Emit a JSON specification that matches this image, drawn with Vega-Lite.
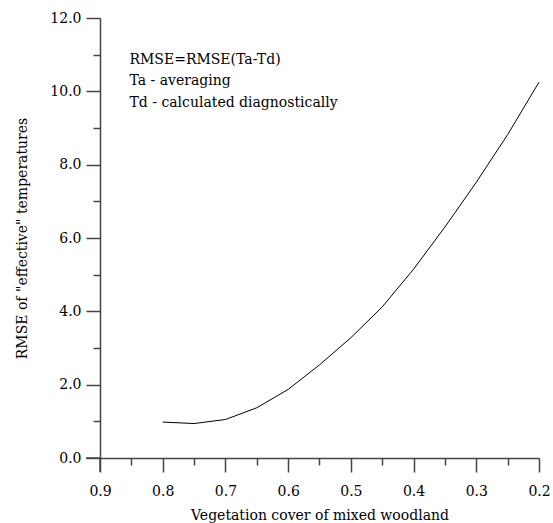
{
  "$schema": "https://vega.github.io/schema/vega-lite/v6.json",
  "autosize": "none",
  "width": 439,
  "height": 440,
  "padding": {"left": 100, "top": 18, "right": 14, "bottom": 65},
  "background": "white",
  "config": {
    "view": {"stroke": null},
    "font": "DejaVu Serif",
    "style": {"guide-title": {"fontWeight": "normal"}},
    "axis": {
      "grid": false,
      "domainColor": "#444444",
      "domainWidth": 1.5,
      "tickColor": "#444444",
      "tickWidth": 1.5,
      "labelColor": "black",
      "titleColor": "black",
      "labelFont": "DejaVu Serif",
      "titleFont": "DejaVu Serif",
      "labelFontSize": 14,
      "titleFontSize": 14,
      "titleFontWeight": "normal"
    }
  },
  "data": {
    "values": [
      {"cover": 0.8, "rmse": 0.98},
      {"cover": 0.75, "rmse": 0.94},
      {"cover": 0.7, "rmse": 1.05},
      {"cover": 0.65, "rmse": 1.37},
      {"cover": 0.6, "rmse": 1.87},
      {"cover": 0.55, "rmse": 2.54},
      {"cover": 0.5, "rmse": 3.28},
      {"cover": 0.45, "rmse": 4.12},
      {"cover": 0.4, "rmse": 5.15},
      {"cover": 0.35, "rmse": 6.3},
      {"cover": 0.3, "rmse": 7.52},
      {"cover": 0.25, "rmse": 8.82},
      {"cover": 0.2, "rmse": 10.25}
    ]
  },
  "resolve": {"axis": {"x": "independent", "y": "independent"}},
  "layer": [
    {
      "mark": {"type": "line", "color": "black", "strokeWidth": 1},
      "encoding": {
        "x": {
          "field": "cover",
          "type": "quantitative",
          "scale": {"domain": [0.9, 0.2], "nice": false, "zero": false},
          "axis": {
            "orient": "bottom",
            "title": "Vegetation cover of mixed woodland",
            "titleFontWeight": "normal",
            "values": [0.9, 0.8, 0.7, 0.6, 0.5, 0.4, 0.3, 0.2],
            "format": ".1f",
            "tickSize": 14,
            "labelPadding": 12,
            "titlePadding": 10,
            "labelFlush": false,
            "labelOverlap": false
          }
        },
        "y": {
          "field": "rmse",
          "type": "quantitative",
          "scale": {"domain": [0, 12], "nice": false},
          "axis": {
            "orient": "left",
            "title": "RMSE of \"effective\" temperatures",
            "titleFontWeight": "normal",
            "values": [0, 2, 4, 6, 8, 10, 12],
            "format": ".1f",
            "tickSize": 14,
            "labelPadding": 5,
            "titlePadding": 20,
            "labelFlush": false,
            "labelOverlap": false
          }
        }
      }
    },
    {
      "mark": {"type": "line", "opacity": 0},
      "encoding": {
        "x": {
          "field": "cover",
          "type": "quantitative",
          "axis": {
            "orient": "bottom",
            "title": "",
            "domain": false,
            "labels": false,
            "values": [0.85, 0.75, 0.65, 0.55, 0.45, 0.35, 0.25],
            "tickSize": 7
          }
        },
        "y": {
          "field": "rmse",
          "type": "quantitative",
          "axis": {
            "orient": "left",
            "title": "",
            "domain": false,
            "labels": false,
            "values": [1, 3, 5, 7, 9, 11],
            "tickSize": 7
          }
        }
      }
    },
    {
      "data": {"values": [{"x0": 0.9, "x1": 0.9223, "y0": 0}]},
      "mark": {"type": "rule", "color": "#444444", "strokeWidth": 1.5},
      "encoding": {
        "x": {"field": "x0", "type": "quantitative", "axis": null},
        "x2": {"field": "x1"},
        "y": {"field": "y0", "type": "quantitative", "axis": null}
      }
    },
    {
      "data": {"values": [{"x0": 0.9, "y0": 0, "y1": -0.38}]},
      "mark": {"type": "rule", "color": "#444444", "strokeWidth": 1.5},
      "encoding": {
        "x": {"field": "x0", "type": "quantitative", "axis": null},
        "y": {"field": "y0", "type": "quantitative", "axis": null},
        "y2": {"field": "y1"}
      }
    },
    {
      "data": {"values": [{"note": ["RMSE=RMSE(Ta-Td)", "Ta - averaging", "Td - calculated diagnostically"], "nx": 0.853, "ny": 10.75}]},
      "mark": {"type": "text", "align": "left", "baseline": "alphabetic", "fontSize": 14, "lineHeight": 21.5, "color": "black", "font": "DejaVu Serif"},
      "encoding": {
        "x": {"field": "nx", "type": "quantitative", "axis": null},
        "y": {"field": "ny", "type": "quantitative", "axis": null},
        "text": {"field": "note"}
      }
    }
  ]
}
